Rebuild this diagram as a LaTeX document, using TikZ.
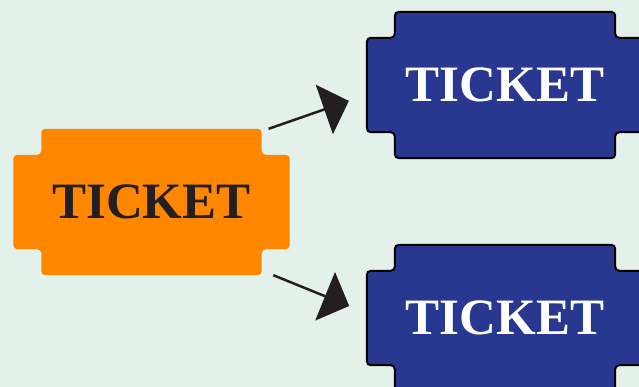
\documentclass[tikz,border=0pt]{standalone}
\usepackage{fontspec}
\setmainfont{Liberation Serif}
\usetikzlibrary{arrows.meta,calc,backgrounds}
\definecolor{Paper}{HTML}{E4F0EA}
\definecolor{Orange}{HTML}{FF8700}
\definecolor{Navy}{HTML}{283891}
\definecolor{Ink}{HTML}{231F20}
% ticket outline round a node: notched corners
\newcommand{\ticketpath}[2]{%
  \path[#2] ($(#1.north west)+(28,0)$) -- ($(#1.north east)+(-28,0)$)
    -- ($(#1.north east)+(-28,26)$) -- ($(#1.north east)+(0,26)$)
    -- ($(#1.south east)+(0,-26)$) -- ($(#1.south east)+(-28,-26)$)
    -- ($(#1.south east)+(-28,0)$) -- ($(#1.south west)+(28,0)$)
    -- ($(#1.south west)+(28,-26)$) -- ($(#1.south west)+(0,-26)$)
    -- ($(#1.north west)+(0,26)$) -- ($(#1.north west)+(28,26)$) -- cycle;}

\begin{document}
\begin{tikzpicture}[
  x=1pt,y=-1pt,
  ticket/.style={minimum width=276pt,minimum height=146pt,inner sep=0pt,
    font=\fontsize{51}{51}\selectfont\bfseries},
  arr/.style={-{Triangle[length=26pt,width=52pt]},line width=2.5pt,color=Ink,
    shorten >=19pt}
]
\useasboundingbox (0,0) rectangle (639,387);
\node[ticket,text=Ink] (src) at (151.5,202) {TICKET};
\node[ticket,text=white] (dstA) at (505,85) {TICKET};
\node[ticket,text=white] (dstB) at (505,318) {TICKET};
\begin{scope}[on background layer]
  \fill[Paper] (0,0) rectangle (639,387);
  \ticketpath{src}{fill=Orange,rounded corners=4pt}
  \ticketpath{dstA}{fill=Navy,draw=black,line width=2pt,rounded corners=4pt}
  \ticketpath{dstB}{fill=Navy,draw=black,line width=2pt,rounded corners=4pt}
\end{scope}
\draw[arr] (src.32) -- (dstA.184);
\draw[arr] (src.-31) -- (dstB.178);
\end{tikzpicture}
\end{document}
